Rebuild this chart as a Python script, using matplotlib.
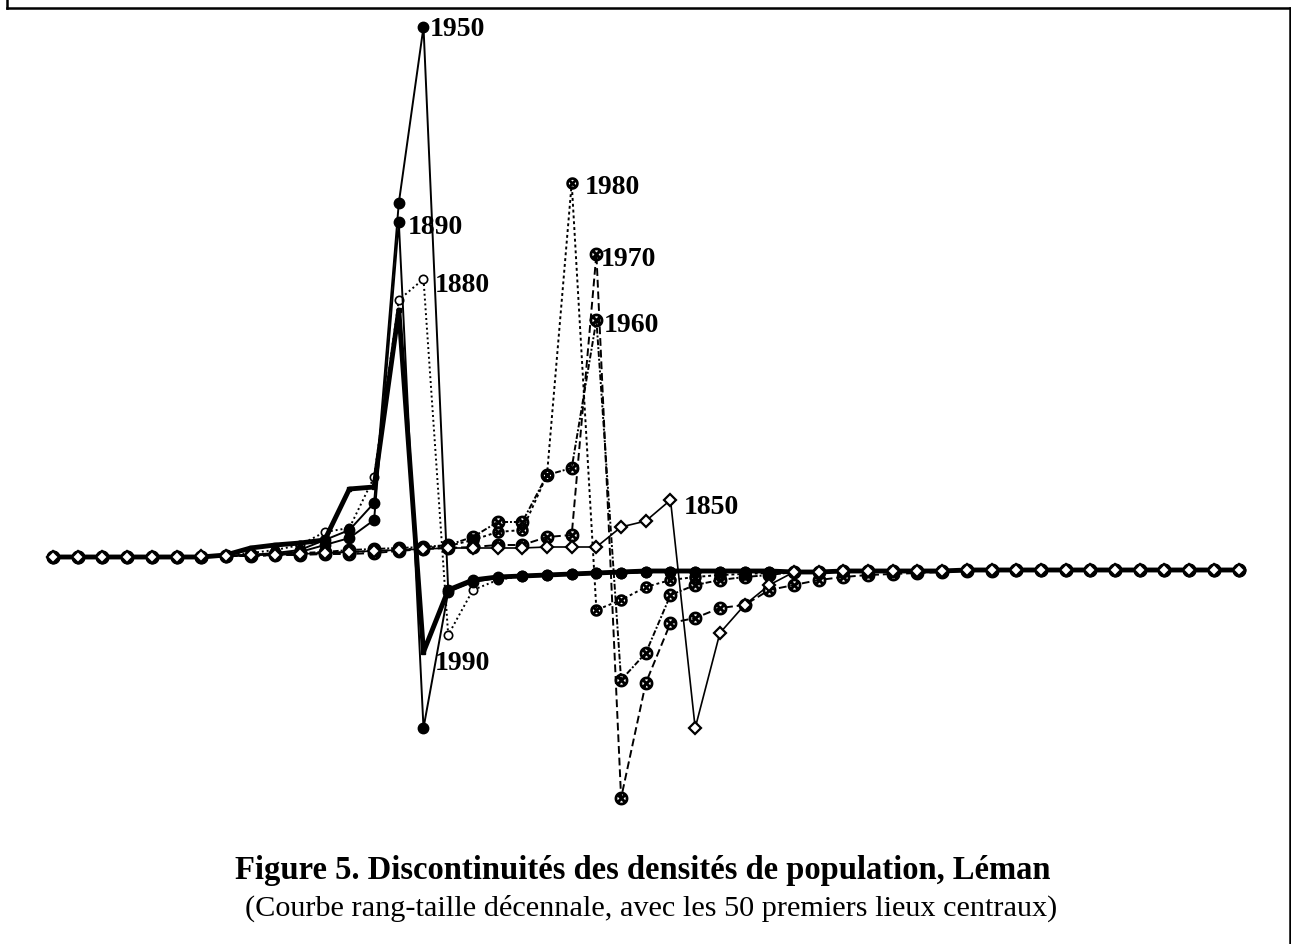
import numpy as np
import matplotlib
matplotlib.use("Agg")
import matplotlib.pyplot as plt
from matplotlib.lines import Line2D

# rang (discontinuité entre rang r et r+1), 49 valeurs
rang = np.arange(1, 50)

tail = [-2.4, -2.4, -2.2, -2.2, -2.2, -2.2, -2.2, -2.0, -2.0, -2.0, -2.0, -2.0,
        -2.0, -2.0, -2.0, -2.0, -2.0, -2.0, -2.0]   # rangs 31..49

d1850 = [0.6, 0.6, 0.6, 0.6, 0.6, 0.6, 0.8, 0.8, 1.0, 1.0, 1.2, 1.4, 1.6, 1.8, 2.0, 2.2,
         2.4, 2.4, 2.4, 2.4, 2.6, 2.6, 2.6, 6.6, 7.8, 12.0, -33.6, -14.6, -9.0, -5.0] + tail
d1880 = [0.6, 0.6, 0.6, 0.6, 0.6, 0.8, 0.8, 1.0, 1.4, 2.0, 3.0, 5.6, 6.4, 16.6, 52.0, 56.2,
         -15.0, -6.0, -4.0, -3.2, -3.0, -2.8, -2.6, -2.6, -2.4, -2.4, -2.4, -2.4, -2.4, -2.4] + tail
d1890 = [0.6, 0.6, 0.6, 0.6, 0.6, 0.6, 0.6, 0.8, 1.0, 1.2, 1.6, 3.0, 4.4, 8.0, 67.6, -33.6,
         -6.4, -4.4, -3.6, -3.2, -3.0, -2.8, -2.6, -2.6, -2.4, -2.4, -2.4, -2.4, -2.4, -2.4] + tail
d1950 = [0.6, 0.6, 0.6, 0.6, 0.6, 0.6, 0.6, 0.8, 1.0, 1.4, 2.0, 4.0, 6.0, 11.4, 71.4, 106.6,
         -6.0, -4.0, -3.4, -3.2, -3.0, -2.8, -2.6, -2.6, -2.4, -2.4, -2.4, -2.4, -2.4, -2.4] + tail
d1960 = [0.6, 0.6, 0.6, 0.6, 0.6, 0.6, 0.6, 0.8, 1.0, 1.2, 1.4, 1.6, 2.0, 2.2, 2.4, 2.6,
         3.0, 4.6, 7.6, 7.6, 17.0, 18.4, 48.0, -24.0, -18.6, -7.0, -5.0, -4.0, -3.4, -3.0] + tail
d1970 = [0.6, 0.6, 0.6, 0.6, 0.6, 0.6, 0.6, 0.8, 0.8, 1.0, 1.0, 1.2, 1.2, 1.4, 1.8, 2.2,
         2.4, 2.6, 3.0, 3.0, 4.6, 5.0, 61.2, -47.6, -24.6, -12.6, -11.6, -9.6, -9.0, -6.0] + \
        [-5.0, -4.0, -3.4, -3.0, -2.8, -2.6, -2.4, -2.2, -2.2, -2.0, -2.0, -2.0, -2.0,
         -2.0, -2.0, -2.0, -2.0, -2.0, -2.0]
d1980 = [0.6, 0.6, 0.6, 0.6, 0.6, 0.6, 0.6, 0.8, 0.8, 1.0, 1.2, 1.4, 1.6, 1.8, 2.0, 2.4,
         2.8, 4.0, 5.6, 6.0, 17.0, 75.4, -10.0, -8.0, -5.4, -4.0, -3.4, -3.0, -2.8, -2.6] + tail
d1990 = [0.6, 0.6, 0.6, 0.6, 0.6, 0.6, 0.6, 1.0, 2.4, 3.0, 3.4, 4.0, 14.2, 14.6, 50.0, -18.4,
         -6.0, -4.0, -3.4, -3.2, -3.0, -2.8, -2.6, -2.4, -2.2, -2.2, -2.2, -2.2, -2.2, -2.2] + tail

annees = ['1850', '1880', '1890', '1950', '1960', '1970', '1980', '1990']
series = [d1850, d1880, d1890, d1950, d1960, d1970, d1980, d1990]
# position du label : rang de la pointe
pic = [26, 16, 15, 16, 23, 23, 22, 16]

W, H = 1291, 944
fig = plt.figure(figsize=(W / 100, H / 100), dpi=100)
ax = fig.add_axes([0, 0, 1, 1])
ax.axis('off')

# echelle : rang 1 a x=53 px, pas 24.7 px ; 0 a y=560 px, 1 unite = 5 px
ax.set_xlim(1 + (0 - 53) / 24.7, 1 + (W - 53) / 24.7)
ax.set_ylim((560 - H) / 5, 560 / 5)

ot = r'$\otimes$'
styles = {
    '1850': dict(ls='-', lw=1.2, marker='D', ms=6.5, mfc='white', mec='black', mew=1.6, zorder=5),
    '1880': dict(ls=(0, (1, 1.5)), lw=1.4, marker='o', ms=6, mfc='white', mec='black', mew=1.2, zorder=2),
    '1890': dict(ls='-', lw=1.4, marker='o', ms=7.5, mfc='black', mec='black', zorder=4),
    '1950': dict(ls='-', lw=1.4, marker='o', ms=7.5, mfc='black', mec='black', zorder=4),
    '1960': dict(ls=(0, (3, 1, 1, 1)), lw=1.4, marker=ot, ms=9, mfc='black', mec='black', zorder=3),
    '1970': dict(ls=(0, (4, 2)), lw=1.4, marker=ot, ms=9, mfc='black', mec='black', zorder=3),
    '1980': dict(ls=(0, (1.5, 1.5)), lw=1.4, marker=ot, ms=8, mfc='black', mec='black', zorder=3),
    '1990': dict(ls='-', lw=3.5, marker='s', ms=3, mfc='black', mec='black', zorder=2),
}

for an, d in zip(annees, series):
    ax.plot(rang, d, color='black', **styles[an])

# labels des annees (decalage en pixels depuis la pointe)
offs = {'1850': (13, -8), '1880': (11, -6), '1890': (9, -5), '1950': (6, -3),
        '1960': (7, -5), '1970': (4, -6), '1980': (13, -4), '1990': (11, -11)}
for an, d, p in zip(annees, series, pic):
    ax.annotate(an, (p, d[p - 1]), xytext=offs[an], textcoords='offset pixels',
                ha='left', va='center', fontsize=20, fontweight='bold',
                family='Liberation Serif', zorder=6)

# cadre
for xs, ys in [([7, 7], [0, 8]), ([7, 1290], [8, 8]), ([1290, 1290], [8, 944])]:
    fig.add_artist(Line2D([x / W for x in xs], [1 - y / H for y in ys],
                          color='black', lw=1.8))

fig.text(643 / W, 1 - 871 / H,
         'Figure 5. Discontinuités des densités de population, Léman',
         ha='center', va='center', fontsize=23.5, fontweight='bold',
         family='Liberation Serif')
fig.text(651 / W, 1 - 908 / H,
         '(Courbe rang-taille décennale, avec les 50 premiers lieux centraux)',
         ha='center', va='center', fontsize=21.8, family='Liberation Serif')

fig.savefig('out.png', dpi=100, facecolor='white')
